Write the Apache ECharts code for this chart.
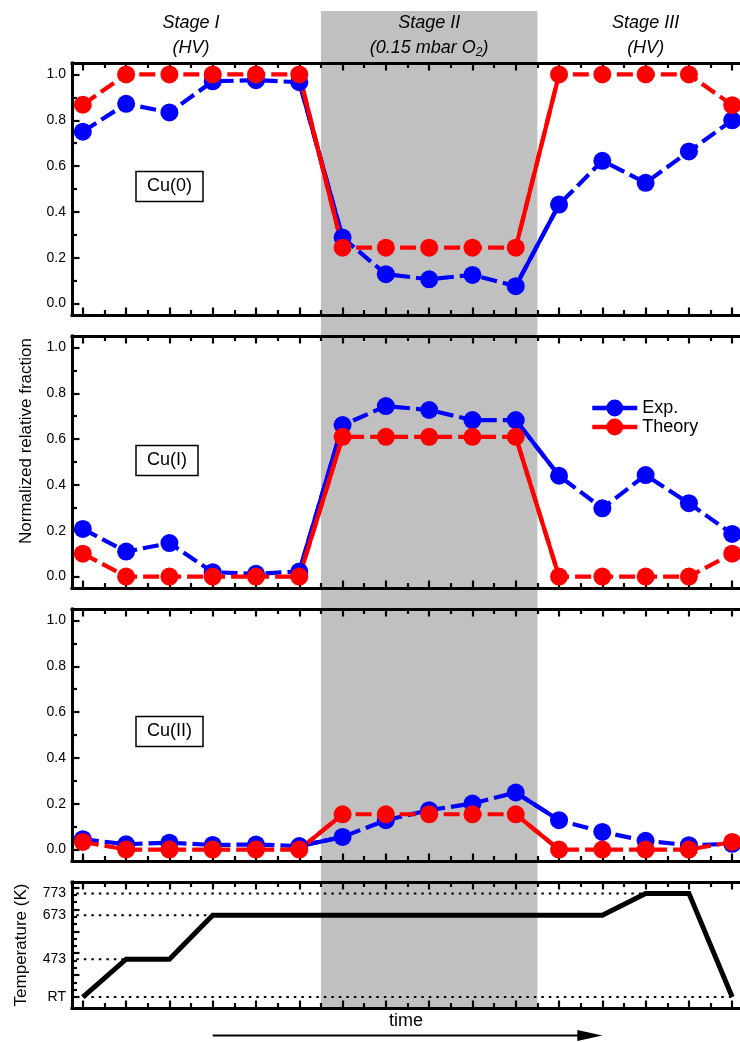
<!DOCTYPE html>
<html><head><meta charset="utf-8">
<script src="https://cdn.jsdelivr.net/npm/echarts@6/dist/echarts.min.js"></script>
<style>html,body{margin:0;padding:0;background:#fff}#c{width:740px;height:1042px}</style>
</head><body><div id="c"></div>
<script>
// ---------------- data ----------------
const steps = [0,1,2,3,4,5,6,7,8,9,10,11,12,13,14,15];
const cu0Exp    = [0.750,0.872,0.834,0.970,0.975,0.966,0.288,0.128,0.106,0.125,0.076,0.432,0.623,0.527,0.664,0.800];
const cu0Theory = [0.868,1.000,1.000,1.000,1.000,1.000,0.244,0.244,0.244,0.244,0.244,1.000,1.000,1.000,1.000,0.866];
const cu1Exp    = [0.208,0.109,0.146,0.019,0.012,0.022,0.661,0.744,0.727,0.683,0.683,0.440,0.298,0.443,0.320,0.186];
const cu1Theory = [0.100,0.000,0.000,0.000,0.000,0.000,0.610,0.610,0.610,0.610,0.610,0.000,0.000,0.000,0.000,0.100];
const cu2Exp    = [0.045,0.023,0.030,0.020,0.022,0.015,0.055,0.128,0.172,0.201,0.249,0.128,0.077,0.038,0.019,0.025];
const cu2Theory = [0.033,0.000,0.000,0.000,0.000,0.000,0.154,0.154,0.154,0.154,0.154,0.000,0.000,0.000,0.000,0.033];
const transitionIdx = [5,6,10,11];
const panelLabels = ['Cu(0)','Cu(I)','Cu(II)'];
const seriesNames = ['Exp.','Theory'];

const tempX = [0,1,2,3,12,13,14,15];
const tempK = [300,473,473,673,673,773,773,300];
const refLevels = [773,673,473,300];
const refEnds   = [13,3,1,15];
const refStart  = -0.15;
const tempTickValues = [300,473,673,773];
const tempTickLabels = ['RT','473','673','773'];

const fracMajor = [0,0.2,0.4,0.6,0.8,1.0];
const fracMinor = [0.1,0.3,0.5,0.7,0.9];
const tempMajor = [300,400,500,600,700,800];
const tempMinor = [333.3,366.7,433.3,466.7,533.3,566.7,633.3,666.7,733.3,766.7];
const xMinor = [0.5,1.5,2.5,3.5,4.5,5.5,6.5,7.5,8.5,9.5,10.5,11.5,12.5,13.5,14.5];

const stageNames = ['Stage I','Stage II','Stage III'];
const stageConds = ['(HV)','{a|(0.15 mbar O}{s|2}{a|)}','(HV)'];
const stageCenters = [2.5, 8, 13];
const stageIIBand = [5.5, 10.5];

// ---------------- layout ----------------
const FONT = 'Liberation Sans, Arial, Helvetica, sans-serif';
const X_MIN = -0.25, X_MAX = 15.18;
const gridTops = [63, 336, 609, 882];
const gridHeights = [252, 252, 252, 126];
const BLUE = '#0000ff', RED = '#ff0000';
const FRAME = {show:true, onZero:false, lineStyle:{color:'#000', width:3, cap:'square'}};
const NOLINE = {show:false, onZero:false};

const chart = echarts.init(document.getElementById('c'));

const grids = gridTops.map((t,i)=>({left:72, right:0, top:t, height:gridHeights[i], show:false}));

const xAxes = [], yAxes = [];
function tickAxisX(g, pos, vals, len, line, extra) {
  return Object.assign({gridIndex:g, type:'value', min:X_MIN, max:X_MAX, position:pos,
    axisLine: line ? FRAME : NOLINE, splitLine:{show:false}, axisLabel:{show:false},
    axisTick:{show:true, inside:true, length:len, customValues:vals, lineStyle:{color:'#000', width:2.2}}}, extra||{});
}
for (let g=0; g<4; g++) {
  const extra = g===3 ? {name:'time', nameLocation:'middle', nameGap:4,
     nameTextStyle:{fontSize:18, fontFamily:FONT, color:'#000', verticalAlign:'top'}} : {};
  xAxes.push(tickAxisX(g,'bottom',steps,7.5,true,extra));
  xAxes.push(tickAxisX(g,'bottom',xMinor,5,false));
  xAxes.push(tickAxisX(g,'top',steps,7.5,true));
  xAxes.push(tickAxisX(g,'top',xMinor,5,false));
  const isT = g===3;
  const ymin = isT?250:-0.05, ymax = isT?825:1.05;
  yAxes.push({gridIndex:g, type:'value', min:ymin, max:ymax, position:'left',
    axisLine:FRAME, splitLine:{show:false},
    axisTick:{show:true, inside:true, length:7.5, customValues: isT?tempMajor:fracMajor, lineStyle:{color:'#000', width:2.2}},
    axisLabel:{show:true, margin:6, fontSize:14, fontFamily:FONT, color:'#000',
      customValues: isT?tempTickValues:fracMajor,
      formatter: isT ? (v=>tempTickLabels[tempTickValues.indexOf(Math.round(v))] ?? '') : (v=>Number(v).toFixed(1))}});
  yAxes.push({gridIndex:g, type:'value', min:ymin, max:ymax, position:'left',
    axisLine:NOLINE, splitLine:{show:false}, axisLabel:{show:false},
    axisTick:{show:true, inside:true, length:5, customValues: isT?tempMinor:fracMinor, lineStyle:{color:'#000', width:2.2}}});
}

const panelData = [[cu0Exp,cu0Theory],[cu1Exp,cu1Theory],[cu2Exp,cu2Theory]];
const colors = [BLUE, RED];
const series = [];
panelData.forEach((pair,g)=>{
  pair.forEach((vals,k)=>{
    series.push({type:'line', name:seriesNames[k]+' transition', xAxisIndex:g*4, yAxisIndex:g*2,
      data: steps.map((s,i)=> transitionIdx.includes(i) ? [s, vals[i]] : [s,'-']),
      symbol:'none', lineStyle:{color:colors[k], width:4.2, type:'solid'}, clip:false, silent:true});
    series.push({type:'line', name:seriesNames[k], xAxisIndex:g*4, yAxisIndex:g*2,
      data: steps.map((s,i)=>[s, vals[i]]),
      symbol:'circle', symbolSize:18, showAllSymbol:true,
      itemStyle:{color:colors[k], borderWidth:0},
      lineStyle:{color:colors[k], width:4.2, type:[16,6]}, clip:false});
  });
});
series.push({type:'line', name:'T', xAxisIndex:12, yAxisIndex:6,
  data: tempX.map((x,i)=>[x,tempK[i]]), symbol:'none',
  lineStyle:{color:'#000', width:5, join:'miter'}, clip:false, z:3});
refLevels.forEach((lv,i)=>{
  series.push({type:'line', name:'ref'+lv, xAxisIndex:12, yAxisIndex:6,
    data:[[refStart,lv],[refEnds[i],lv]], symbol:'none',
    lineStyle:{color:'#000', width:2, type:[2.5,5]}, z:1});
});

const titles = panelLabels.map((t,i)=>({text:t, left:136, top:[171,445,716][i],
  padding:[5.5,11], borderColor:'#000', borderWidth:1.5,
  textStyle:{fontSize:18, fontWeight:'normal', fontFamily:FONT, color:'#000', lineHeight:20}}));

chart.setOption({
  animation:false,
  backgroundColor:'#fff',
  title: titles,
  grid: grids, xAxis: xAxes, yAxis: yAxes, series,
  legend:{data:seriesNames, orient:'vertical', left:585, top:394, itemWidth:45, itemHeight:21, itemGap:1,
    lineStyle:{width:4.5, type:'solid'},
    textStyle:{fontSize:18, fontFamily:FONT, color:'#000'}, selectedMode:false}
});

const px = v => chart.convertToPixel({xAxisIndex:0}, v);
const bandX1 = px(stageIIBand[0]), bandX2 = px(stageIIBand[1]);
const bandBottom = gridTops[3] + gridHeights[3];
const graphics = [
  {type:'rect', z:-100, silent:true, shape:{x:bandX1, y:11, width:bandX2-bandX1, height:bandBottom-11}, style:{fill:'#c0c0c0'}},
  {type:'text', x:26, y:441, rotation:Math.PI/2, style:{text:'Normalized relative fraction', fontSize:17, fontFamily:FONT, fill:'#000', align:'center', verticalAlign:'middle'}},
  {type:'text', x:21.5, y:945, rotation:Math.PI/2, style:{text:'Temperature (K)', fontSize:17, fontFamily:FONT, fill:'#000', align:'center', verticalAlign:'middle'}}
];
stageNames.forEach((n,i)=>{
  const cx = px(stageCenters[i]);
  graphics.push({type:'text', x:cx, y:23, style:{text:n, fontSize:18, fontStyle:'italic', fontFamily:FONT, fill:'#000', align:'center', verticalAlign:'middle'}});
  graphics.push({type:'text', x:cx, y:48, style:{text:stageConds[i], fontSize:18, fontStyle:'italic', fontFamily:FONT, fill:'#000', align:'center', verticalAlign:'middle',
    rich:{a:{fontSize:18, fontStyle:'italic', fontFamily:FONT, fill:'#000', lineHeight:22},
          s:{fontSize:12, fontStyle:'italic', fontFamily:FONT, fill:'#000', lineHeight:12, verticalAlign:'bottom'}}}});
});
const ax1 = px(3), ax2 = px(12), ay = 1035.5;
graphics.push({type:'line', shape:{x1:ax1, y1:ay, x2:ax2-22, y2:ay}, style:{stroke:'#000', lineWidth:2}});
graphics.push({type:'polygon', shape:{points:[[ax2-25,ay-5.5],[ax2,ay],[ax2-25,ay+5.5]]}, style:{fill:'#000'}});
chart.setOption({graphic: graphics});
</script></body></html>
